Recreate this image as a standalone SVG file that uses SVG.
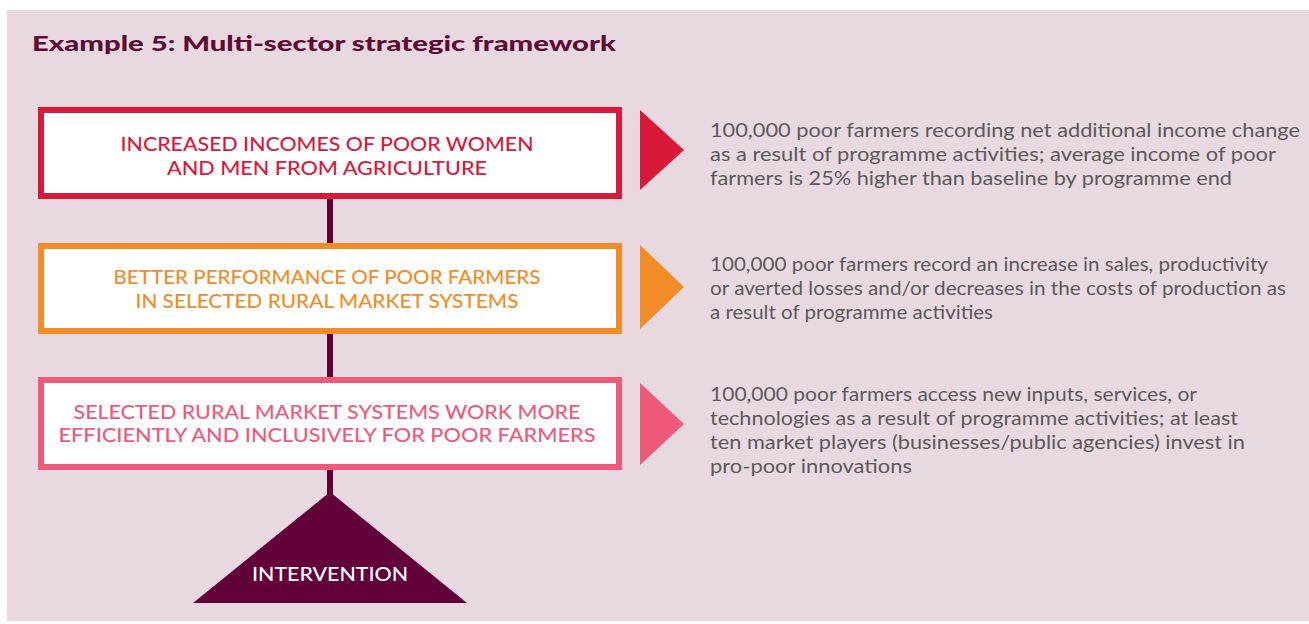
<svg xmlns="http://www.w3.org/2000/svg" width="1309" height="624" viewBox="0 0 1309 624">
<style>
.box{fill:#ffffff;stroke-width:6}
.bt{font-family:Lato,"Liberation Sans",sans-serif;font-size:19px;font-weight:500;text-anchor:middle}
.rt{font-family:Lato,"Liberation Sans",sans-serif;font-size:20px;fill:#5a5a5a}
.conn{stroke:#62003a;stroke-width:6;fill:none}
</style>
<rect x="0" y="0" width="1309" height="624" fill="#ffffff"/>
<rect x="7" y="10" width="1302" height="611" fill="#e8d9e0"/>
<text x="32" y="51" font-family="Lato,'Liberation Sans',sans-serif" font-size="21" font-weight="900" fill="#5f0a35" textLength="584" lengthAdjust="spacingAndGlyphs">Example 5: Multi-sector strategic framework</text>
<g id="connectors">
<line class="conn" x1="330" y1="199" x2="330" y2="243"/>
<line class="conn" x1="330" y1="334" x2="330" y2="377"/>
<line class="conn" x1="330" y1="470" x2="330" y2="496"/>
</g>
<g id="node1">
<rect class="box" x="41" y="110" width="578" height="86" stroke="#d9193a"/>
<text class="bt" x="327" y="151" fill="#d9193a" textLength="413" lengthAdjust="spacingAndGlyphs">INCREASED INCOMES OF POOR WOMEN</text>
<text class="bt" x="327" y="175" fill="#d9193a" textLength="320" lengthAdjust="spacingAndGlyphs">AND MEN FROM AGRICULTURE</text>
<polygon points="640,110 684,150 640,190" fill="#d9193a"/>
<text class="rt" x="710" y="137" textLength="590" lengthAdjust="spacingAndGlyphs">100,000 poor farmers recording net additional income change</text>
<text class="rt" x="710" y="161" textLength="566" lengthAdjust="spacingAndGlyphs">as a result of programme activities; average income of poor</text>
<text class="rt" x="710" y="185" textLength="522" lengthAdjust="spacingAndGlyphs">farmers is 25% higher than baseline by programme end</text>
</g>
<g id="node2">
<rect class="box" x="41" y="246" width="578" height="85" stroke="#f28c28"/>
<text class="bt" x="327" y="284" fill="#f28c28" textLength="427" lengthAdjust="spacingAndGlyphs">BETTER PERFORMANCE OF POOR FARMERS</text>
<text class="bt" x="327" y="308" fill="#f28c28" textLength="383" lengthAdjust="spacingAndGlyphs">IN SELECTED RURAL MARKET SYSTEMS</text>
<polygon points="640,245 684,287 640,329" fill="#f28c28"/>
<text class="rt" x="710" y="271" textLength="558" lengthAdjust="spacingAndGlyphs">100,000 poor farmers record an increase in sales, productivity</text>
<text class="rt" x="710" y="295" textLength="576" lengthAdjust="spacingAndGlyphs">or averted losses and/or decreases in the costs of production as</text>
<text class="rt" x="710" y="319" textLength="283" lengthAdjust="spacingAndGlyphs">a result of programme activities</text>
</g>
<g id="node3">
<rect class="box" x="41" y="380" width="578" height="87" stroke="#ef5a7a"/>
<text class="bt" x="327" y="419" fill="#ef5a7a" textLength="507" lengthAdjust="spacingAndGlyphs">SELECTED RURAL MARKET SYSTEMS WORK MORE</text>
<text class="bt" x="327" y="442" fill="#ef5a7a" textLength="537" lengthAdjust="spacingAndGlyphs">EFFICIENTLY AND INCLUSIVELY FOR POOR FARMERS</text>
<polygon points="640,383 684,424 640,465" fill="#ef5a7a"/>
<text class="rt" x="710" y="401" textLength="487" lengthAdjust="spacingAndGlyphs">100,000 poor farmers access new inputs, services, or</text>
<text class="rt" x="710" y="425" textLength="528" lengthAdjust="spacingAndGlyphs">technologies as a result of programme activities; at least</text>
<text class="rt" x="710" y="449" textLength="535" lengthAdjust="spacingAndGlyphs">ten market players (businesses/public agencies) invest in</text>
<text class="rt" x="710" y="473" textLength="202" lengthAdjust="spacingAndGlyphs">pro-poor innovations</text>
</g>
<g id="intervention">
<polygon points="330,492 467,603 193,603" fill="#62003a"/>
<text class="bt" x="330" y="581" fill="#ffffff" textLength="156" lengthAdjust="spacingAndGlyphs">INTERVENTION</text>
</g>
</svg>
